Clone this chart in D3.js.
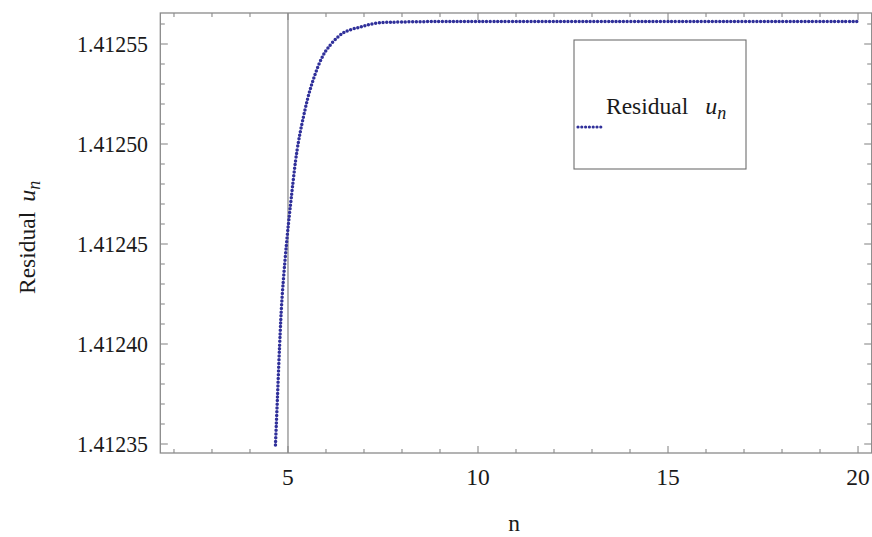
<!DOCTYPE html>
<html>
<head>
<meta charset="utf-8">
<script src="https://cdn.jsdelivr.net/npm/d3@7"></script>
<style>
  html, body { margin: 0; padding: 0; background: #fff; }
  svg { display: block; }
  text { font-family: "Liberation Serif", "DejaVu Serif", serif; fill: #1a1a1a; }
</style>
</head>
<body>
<svg id="chart" width="872" height="537"></svg>
<script>
// Residual u_n against n
const nValues = [4.67, 4.72, 4.78, 4.84, 4.96, 5.08, 5.24, 5.4, 5.58, 5.84, 6.05, 6.45, 6.9, 7.37, 8, 9, 10, 12, 15, 20];
const uValues = [1.4123495, 1.412372, 1.4123995, 1.412422, 1.41245, 1.412472, 1.412497, 1.412513, 1.412527,
                 1.412541, 1.412548, 1.4125555, 1.4125585, 1.4125605, 1.412561, 1.41256125, 1.41256125,
                 1.41256125, 1.41256125, 1.41256125];
const xTickValues = [5, 10, 15, 20];
const yTickValues = [1.41235, 1.41240, 1.41245, 1.41250, 1.41255];
const yTickLabels = ["1.41235", "1.41240", "1.41245", "1.41250", "1.41255"];
const xDomain = [1.64, 20.36];
const yDomain = [1.4123455, 1.4125655];
const originX = 5;

const svg = d3.select("#chart");
const frame = { left: 160.3, right: 871.7, top: 13, bottom: 453 };

const x = d3.scaleLinear().domain(xDomain).range([frame.left, frame.right]);
const y = d3.scaleLinear().domain(yDomain).range([frame.bottom, frame.top]);

const frameColor = "#8a8a8a";
const curveColor = "#30309a";

svg.append("defs").append("clipPath").attr("id", "plotClip")
  .append("rect")
  .attr("x", frame.left).attr("y", frame.top)
  .attr("width", frame.right - frame.left).attr("height", frame.bottom - frame.top);

// vertical axis line at n = 5
svg.append("line")
  .attr("x1", x(originX)).attr("x2", x(originX))
  .attr("y1", frame.top).attr("y2", frame.bottom)
  .attr("stroke", "#8f8f8f").attr("stroke-width", 1.3);

// tick marks (minor every unit / every 1e-5, major with labels)
const xMinor = d3.range(2, 21);
const yMinor = d3.ticks(yDomain[0], yDomain[1], 22);

function drawTicks(g, values, orient, len) {
  values.forEach(v => {
    if (orient === "bottom" || orient === "top") {
      const px = x(v);
      const y0 = orient === "bottom" ? frame.bottom : frame.top;
      const dir = orient === "bottom" ? -1 : 1;
      g.append("line").attr("x1", px).attr("x2", px).attr("y1", y0).attr("y2", y0 + dir * len);
    } else {
      const py = y(v);
      const x0 = orient === "left" ? frame.left : frame.right;
      const dir = orient === "left" ? 1 : -1;
      g.append("line").attr("x1", x0).attr("x2", x0 + dir * len).attr("y1", py).attr("y2", py);
    }
  });
}

const ticks = svg.append("g").attr("stroke", frameColor).attr("stroke-width", 1.1);
const isMajorX = v => xTickValues.includes(v);
const isMajorY = v => yTickValues.some(t => Math.abs(t - v) < 1e-9);
["bottom", "top"].forEach(o => {
  drawTicks(ticks, xMinor.filter(v => !isMajorX(v)), o, 4);
  drawTicks(ticks, xTickValues, o, 7);
});
["left", "right"].forEach(o => {
  drawTicks(ticks, yMinor.filter(v => !isMajorY(v)), o, 4.5);
  drawTicks(ticks, yTickValues, o, 7.5);
});

// frame
svg.append("rect")
  .attr("x", frame.left).attr("y", frame.top)
  .attr("width", frame.right - frame.left).attr("height", frame.bottom - frame.top)
  .attr("fill", "none").attr("stroke", frameColor).attr("stroke-width", 1.3);

// tick labels
const fs = 23.5;
svg.append("g").selectAll("text").data(xTickValues).join("text")
  .attr("x", d => x(d)).attr("y", 485)
  .attr("text-anchor", "middle").attr("font-size", fs)
  .text(d => d);

svg.append("g").selectAll("text").data(yTickValues).join("text")
  .attr("x", 148).attr("y", d => y(d) + 8)
  .attr("text-anchor", "end").attr("font-size", fs)
  .attr("textLength", 71).attr("lengthAdjust", "spacingAndGlyphs")
  .text((d, i) => yTickLabels[i]);

// axis labels
svg.append("text")
  .attr("x", 514).attr("y", 531)
  .attr("text-anchor", "middle").attr("font-size", fs)
  .text("n");

const yLabel = svg.append("text")
  .attr("transform", "translate(35,294) rotate(-90)")
  .attr("font-size", fs);
yLabel.append("tspan").text("Residual");
yLabel.append("tspan").attr("dx", 10).attr("font-style", "italic").attr("font-size", 24).text("u");
yLabel.append("tspan").attr("dy", 5).attr("font-style", "italic").attr("font-size", 18).text("n");

// dotted curve
const pts = nValues.map((n, i) => [n, uValues[i]]);
const line = d3.line().x(d => x(d[0])).y(d => y(d[1])).curve(d3.curveCatmullRom.alpha(0.5));

svg.append("path")
  .attr("clip-path", "url(#plotClip)")
  .attr("d", line(pts))
  .attr("fill", "none")
  .attr("stroke", curveColor)
  .attr("stroke-width", 3.5)
  .attr("stroke-linecap", "round")
  .attr("stroke-dasharray", "0 3.7");

// legend
const leg = svg.append("g");
leg.append("rect")
  .attr("x", 574).attr("y", 40).attr("width", 172).attr("height", 129)
  .attr("fill", "#fff").attr("stroke", "#6e6e6e").attr("stroke-width", 1.1);
leg.append("line")
  .attr("x1", 578).attr("x2", 601).attr("y1", 127).attr("y2", 127)
  .attr("stroke", curveColor).attr("stroke-width", 3.2)
  .attr("stroke-linecap", "round").attr("stroke-dasharray", "0 3.8");
const legText = leg.append("text").attr("x", 606).attr("y", 114).attr("font-size", fs);
legText.append("tspan").text("Residual");
legText.append("tspan").attr("dx", 17).attr("font-style", "italic").attr("font-size", 24).text("u");
legText.append("tspan").attr("dy", 5).attr("font-style", "italic").attr("font-size", 18).text("n");
</script>
</body>
</html>
